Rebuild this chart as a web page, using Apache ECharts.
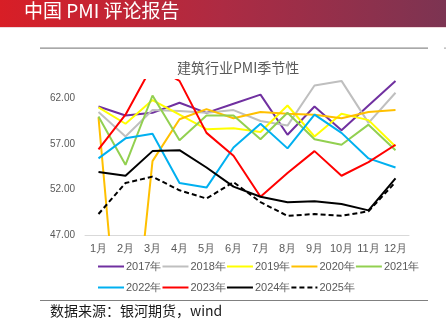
<!DOCTYPE html>
<html><head><meta charset="utf-8">
<script src="https://cdn.jsdelivr.net/npm/echarts@6/dist/echarts.min.js"></script>
<style>html,body{margin:0;padding:0;background:#fff}#c{width:446px;height:325px}</style>
</head><body><div id="c"></div>
<script>
const months = ['1月','2月','3月','4月','5月','6月','7月','8月','9月','10月','11月','12月'];
const yTicks = [47, 52, 57, 62];
const years = ['2017年','2018年','2019年','2020年','2021年','2022年','2023年','2024年','2025年'];
const y2017 = [61.1, 60.1, 60.4, 61.5, 60.4, 61.4, 62.4, 58.0, 61.1, 58.5, 61.2, 63.9];
const y2018 = [60.5, 57.8, 60.7, 60.6, 60.4, 60.7, 59.5, 59.0, 63.4, 63.9, 59.3, 62.6];
const y2019 = [61.0, 59.2, 61.8, 60.2, 58.6, 58.7, 58.3, 61.2, 57.8, 60.3, 59.6, 56.7];
const y2020 = [59.9, 26.6, 55.1, 59.7, 60.8, 59.8, 60.5, 60.3, 60.2, 59.8, 60.5, 60.7];
const y2021 = [60.0, 54.7, 62.3, 57.4, 60.1, 60.1, 57.5, 60.4, 57.5, 56.9, 59.1, 56.3];
const y2022 = [55.4, 57.6, 58.1, 52.7, 52.2, 56.6, 59.2, 56.5, 60.2, 58.2, 55.4, 54.4];
const y2023 = [56.4, 60.2, 65.6, 63.9, 58.2, 55.7, 51.2, 53.8, 56.2, 53.5, 55.0, 56.9];
const y2024 = [53.9, 53.5, 56.2, 56.3, 54.4, 52.3, 51.2, 50.6, 50.7, 50.4, 49.7, 53.2];
const y2025 = [49.3, 52.7, 53.4, 51.9, 51.0, 52.8, 50.6, 49.1, 49.3, 49.1, 49.6, 52.8];

const allData = [y2017, y2018, y2019, y2020, y2021, y2022, y2023, y2024, y2025];
const colors = ['#7030a0','#bfbfbf','#ffff00','#ffc000','#92d050','#00b0f0','#ff0000','#000000','#000000'];

const chart = echarts.init(document.getElementById('c'), null, {renderer:'canvas'});
const series = years.map((name, i) => ({
  name, type: 'line', data: allData[i], symbol: 'none', showSymbol: false, clip: true,
  lineStyle: { color: colors[i], width: 2, type: i === 8 ? [5, 3] : 'solid' },
  itemStyle: { color: colors[i] },
  z: 2 + i
}));
const legendCommon = {
  itemWidth: 26, itemHeight: 10, itemGap: 0, left: 92,
  itemStyle: { opacity: 0 },
  textStyle: { color: '#595959', fontSize: 11, fontFamily: 'Liberation Sans Narrow, Liberation Sans', width: 27, overflow: 'none', padding: [0,0,0,-3] },
  selectedMode: false
};
chart.setOption({
  animation: false,
  backgroundColor: '#fff',
  grid: { left: 85, right: 37, top: 80, bottom: 90 },
  legend: [
    Object.assign({ top: 256, data: years.slice(0,5) }, legendCommon),
    Object.assign({ top: 277, data: years.slice(5) }, legendCommon)
  ],
  xAxis: {
    type: 'category', data: months, boundaryGap: true,
    axisLine: { lineStyle: { color: '#d9d9d9', width: 1 } },
    axisTick: { show: false },
    axisLabel: { color: '#595959', fontSize: 11, margin: 8, interval: 0, fontFamily: 'Liberation Sans Narrow, Liberation Sans' }
  },
  yAxis: {
    type: 'value', min: 47, max: 64, interval: 5,
    splitLine: { show: false }, axisLine: { show: false }, axisTick: { show: false },
    axisLabel: { color: '#595959', fontSize: 10, margin: 10, showMaxLabel: false,
      fontFamily: 'Liberation Sans Narrow, Liberation Sans',
      formatter: v => yTicks.indexOf(v) >= 0 ? v.toFixed(2) : '' }
  },
  series,
  graphic: [
    { type: 'rect', left: 0, top: 0, shape: { width: 446, height: 27 },
      style: { fill: new echarts.graphic.LinearGradient(0, 0, 1, 0, [
        { offset: 0, color: '#d81e26' }, { offset: 0.5, color: '#ad2b43' }, { offset: 1, color: '#7c3452' }]) } },
    { type: 'rect', left: 0, top: 27, shape: { width: 446, height: 1 }, style: { fill: '#f0d8dc' } },
    { type: 'text', left: 24, top: 1, style: { text: '中国 PMI 评论报告', fill: '#ffffff', fontSize: 19, fontFamily: 'Noto Sans CJK SC' } },
    { type: 'rect', left: 40, top: 47.5, shape: { width: 388, height: 1.2 }, style: { fill: '#8c8c8c' } },
    { type: 'rect', left: 444, top: 47.5, shape: { width: 2, height: 1.2 }, style: { fill: '#b0b0b0' } },
    { type: 'text', left: 177, top: 61, style: { text: '建筑行业PMI季节性', fill: '#595959', fontSize: 14, fontFamily: 'Noto Sans CJK SC' } },
    { type: 'rect', left: 40, top: 300, shape: { width: 388, height: 1 }, style: { fill: '#808080' } },
    { type: 'text', left: 50, top: 304, style: { text: '数据来源：银河期货，wind', fill: '#1a1a1a', fontSize: 14, fontFamily: 'Noto Sans CJK SC' } }
  ]
});
</script></body></html>
